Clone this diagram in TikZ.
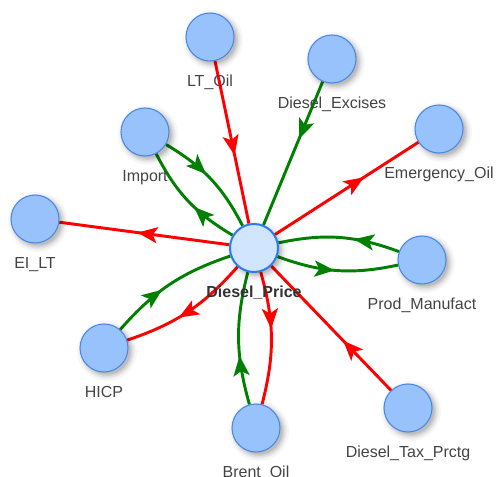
\documentclass[tikz,border=0pt]{standalone}
\usepackage{fontspec}
\setmainfont{Liberation Sans}
\usetikzlibrary{arrows.meta,decorations.markings,calc}
\definecolor{nfill}{HTML}{97C2FC}
\definecolor{nborder}{HTML}{4A86E8}
\definecolor{pfill}{HTML}{D2E5FF}
\definecolor{pborder}{HTML}{2B7CE9}
\definecolor{ered}{HTML}{FF0000}
\definecolor{egreen}{HTML}{008000}
\definecolor{ltext}{HTML}{444444}
\pgfdeclarelayer{bglayer}
\pgfdeclarelayer{edgelayer}
\pgfdeclarelayer{shadowlayer}
\pgfsetlayers{bglayer,edgelayer,shadowlayer,main}
\tikzset{
  nd/.style={circle,minimum size=36pt,inner sep=0pt,fill=nfill,draw=nborder,line width=0.8pt},
  pnd/.style={nd,fill=pfill,draw=pborder,line width=1.5pt},
  lbl/.style={anchor=base,text=ltext,font=\fontsize{12pt}{14pt}\selectfont,inner sep=0pt},
  ed/.style={line width=2.2pt},
  redge/.style={ed,ered},
  gedge/.style={ed,egreen},
  arrowat/.style={postaction={decorate,decoration={markings,mark=at position #1 with {\arrow{Stealth[length=15pt,width=12pt,inset=3.5pt]}}}}},
}
\begin{document}
\begin{tikzpicture}[x=0.75pt,y=-0.75pt]
\useasboundingbox (0,0) rectangle (497,477);
\begin{pgfonlayer}{bglayer}
\fill[white] (0,0) rectangle (497,477);
\end{pgfonlayer}
% nodes
\node[nd] (LT) at (210,37) {};
\node[nd] (EX) at (332,59) {};
\node[nd] (IM) at (145,132) {};
\node[nd] (EM) at (439,129) {};
\node[nd] (EI) at (35,219) {};
\node[pnd] (PR) at (254,248) {};
\node[nd] (PM) at (422,260) {};
\node[nd] (HI) at (104,348) {};
\node[nd] (BR) at (256,428) {};
\node[nd] (TX) at (408,408) {};
% shadows
\begin{pgfonlayer}{shadowlayer}
\foreach \n in {LT,EX,IM,EM,EI,PR,PM,HI,BR,TX}{
  \foreach \r/\o in {22.5pt/0.03,21pt/0.04,19.9pt/0.05,18.75pt/0.07,17.6pt/0.09}{
    \fill[black,opacity=\o] ($(\n.center)+(3,3)$) circle[radius=\r];
  }
}
\end{pgfonlayer}
% edges
\begin{pgfonlayer}{edgelayer}
\draw[redge,arrowat=0.58] (LT) -- (PR);
\draw[gedge,arrowat=0.40] (EX) -- (PR);
\draw[gedge,arrowat=0.44] (IM) to[bend left=16] (PR);
\draw[gedge,arrowat=0.42] (PR) to[bend left=16] (IM);
\draw[redge,arrowat=0.62] (PR) -- (EM);
\draw[redge,arrowat=0.54] (PR) -- (EI);
\draw[gedge,arrowat=0.38] (PM) to[bend right=16] (PR);
\draw[gedge,arrowat=0.48] (PR) to[bend right=16] (PM);
\draw[gedge,arrowat=0.43] (HI) to[bend left=15] (PR);
\draw[redge,arrowat=0.58] (PR) to[bend left=15] (HI);
\draw[gedge,arrowat=0.37] (BR) to[bend left=15] (PR);
\draw[redge,arrowat=0.43] (PR) to[bend left=15] (BR);
\draw[redge,arrowat=0.40] (TX) -- (PR);
\end{pgfonlayer}
% labels
\node[lbl] (LTl) at ($(LT.center)+(0,50)$) {LT\_Oil};
\node[lbl] (EXl) at ($(EX.center)+(0,50)$) {Diesel\_Excises};
\node[lbl] (IMl) at ($(IM.center)+(0,50)$) {Import};
\node[lbl] (EMl) at ($(EM.center)+(0,50)$) {Emergency\_Oil};
\node[lbl] (EIl) at ($(EI.center)+(0,50)$) {EI\_LT};
\node[lbl,font=\fontsize{12pt}{14pt}\selectfont\bfseries,text=black!80] (PRl) at ($(PR.center)+(0,50)$) {Diesel\_Price};
\node[lbl] (PMl) at ($(PM.center)+(0,50)$) {Prod\_Manufact};
\node[lbl] (HIl) at ($(HI.center)+(0,50)$) {HICP};
\node[lbl] (BRl) at ($(BR.center)+(0,50)$) {Brent\_Oil};
\node[lbl] (TXl) at ($(TX.center)+(0,50)$) {Diesel\_Tax\_Prctg};
\end{tikzpicture}
\end{document}
